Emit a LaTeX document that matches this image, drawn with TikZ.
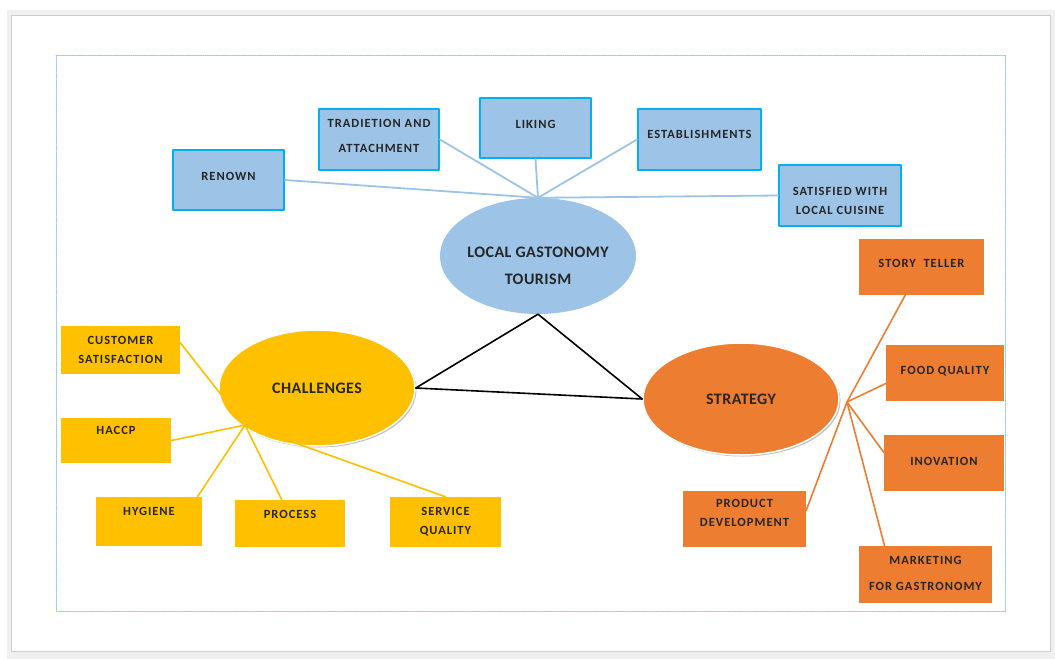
\documentclass[tikz,border=0pt]{standalone}
\usepackage{fontspec}
\setmainfont{Carlito}
\newfontfamily\boxfont{Carlito}[LetterSpace=8]
\newfontfamily\hubfont{Carlito}[LetterSpace=3]
\usetikzlibrary{shapes.geometric,shadows}
\definecolor{boxblue}{HTML}{9DC3E6}
\definecolor{rimblue}{HTML}{00B0F0}
\definecolor{boxyellow}{HTML}{FFC000}
\definecolor{boxorange}{HTML}{ED7D31}
\definecolor{pagegray}{HTML}{F0F0F0}
\definecolor{framegray}{HTML}{CDCDCD}
\definecolor{dotblue}{HTML}{9CC2F0}
\tikzset{
  boxtext/.style={font=\boxfont\fontsize{12.5}{19}\selectfont\bfseries, align=center, text=black!85, inner sep=0pt},
  bigtext/.style={font=\hubfont\fontsize{16}{27}\selectfont\bfseries, align=center, text=black!85},
  every label/.style={boxtext},
  bluebox/.style={rectangle, fill=boxblue, draw=rimblue, line width=2pt, inner sep=0pt},
  yellowbox/.style={rectangle, fill=boxyellow, inner sep=0pt},
  orangebox/.style={rectangle, fill=boxorange, inner sep=0pt},
  hubellipse/.style={bigtext, ellipse, inner sep=0pt, minimum width=196, minimum height=116},
  shadowed/.style={draw=white, line width=1.5pt, drop shadow={shadow xshift=1.5pt, shadow yshift=-1.5pt, opacity=0.35, fill=black!70}},
}
\begin{document}
\begin{tikzpicture}[x=1pt, y=-1pt, line join=round, line cap=round]
	\useasboundingbox (0,0) rectangle (1055,659);
	% page frame
	\fill[pagegray] (7,10) rectangle (1055,659);
	\filldraw[fill=white, draw=framegray, line width=1pt] (11,15) rectangle (1050,651);
	\draw[dotblue, densely dotted, line width=0.8pt] (56,55) rectangle (1005,611);
	% centre
	\node[hubellipse, fill=boxblue, label={[bigtext, yshift=-10pt]center:LOCAL GASTONOMY\\TOURISM}] (gast) at (538,256) {};
	\node[hubellipse, fill=boxyellow, shadowed] (chall) at (317,388) {CHALLENGES};
	\node[hubellipse, fill=boxorange, shadowed, minimum height=112] (strat) at (741,399) {STRATEGY};
	\draw[black, line width=1.6pt] (gast.south) -- (chall.east) -- (strat.west) -- cycle;
	% local gastronomy tourism
	\node[bluebox, minimum width=111, minimum height=60, label={[yshift=4pt]center:RENOWN}] (renown) at (228.5,180) {};
	\node[bluebox, minimum width=120, minimum height=61, label={[yshift=4pt]center:TRADIETION AND\\[6pt]ATTACHMENT}] (trad) at (379,139.5) {};
	\node[bluebox, minimum width=111, minimum height=60, label={[yshift=4pt]center:LIKING}] (liking) at (535.5,128) {};
	\node[bluebox, minimum width=123, minimum height=61, label={[yshift=5.5pt]center:ESTABLISHMENTS}] (estab) at (699.5,139.5) {};
	\node[bluebox, minimum width=122, minimum height=61, label={[yshift=-5pt]center:SATISFIED WITH\\LOCAL CUISINE}] (satis) at (840,195.5) {};
	\foreach \n/\a in {renown/east, trad/east, liking/south, estab/west, satis/west}
		\draw[boxblue, line width=1.8pt] (\n.\a) -- (gast.north);
	% challenges
	\coordinate (chub) at (245,425);
	\node[yellowbox, minimum width=119, minimum height=48, label={center:CUSTOMER\\SATISFACTION}] (cust) at (120.5,350) {};
	\node[yellowbox, minimum width=110, minimum height=45, label={[yshift=10.5pt]center:HACCP}] (haccp) at (116,440.5) {};
	\node[yellowbox, minimum width=106, minimum height=49, label={[yshift=10.5pt]center:HYGIENE}] (hyg) at (149,521.5) {};
	\node[yellowbox, minimum width=110, minimum height=47, label={[yshift=9.5pt]center:PROCESS}] (proc) at (290,523.5) {};
	\node[yellowbox, minimum width=111, minimum height=50, label={center:SERVICE\\QUALITY}] (serv) at (445.5,522) {};
	\foreach \n/\a in {cust/7, haccp/east, hyg/27, proc/109, serv/north}
		\draw[boxyellow, line width=1.6pt] (\n.\a) -- (chub);
	% strategy
	\coordinate (shub) at (847,402);
	\node[orangebox, minimum width=125, minimum height=56, label={[yshift=4pt]center:STORY~~TELLER}] (story) at (921.5,267) {};
	\node[orangebox, minimum width=118, minimum height=56, label={[yshift=2pt]center:FOOD QUALITY}] (food) at (945,373) {};
	\node[orangebox, minimum width=120, minimum height=56, label={[yshift=2pt]center:INOVATION}] (inov) at (944,463) {};
	\node[orangebox, minimum width=123, minimum height=56, label={[yshift=6pt]center:PRODUCT\\DEVELOPMENT}] (prod) at (744.5,519) {};
	\node[orangebox, minimum width=133, minimum height=57, label={[yshift=1.5pt]center:MARKETING\\[7pt]FOR GASTRONOMY}] (mark) at (925.5,574.5) {};
	\foreach \n/\a in {story/240, food/190, inov/170, prod/8, mark/145}
		\draw[boxorange, line width=1.6pt] (\n.\a) -- (shub);
\end{tikzpicture}
\end{document}
